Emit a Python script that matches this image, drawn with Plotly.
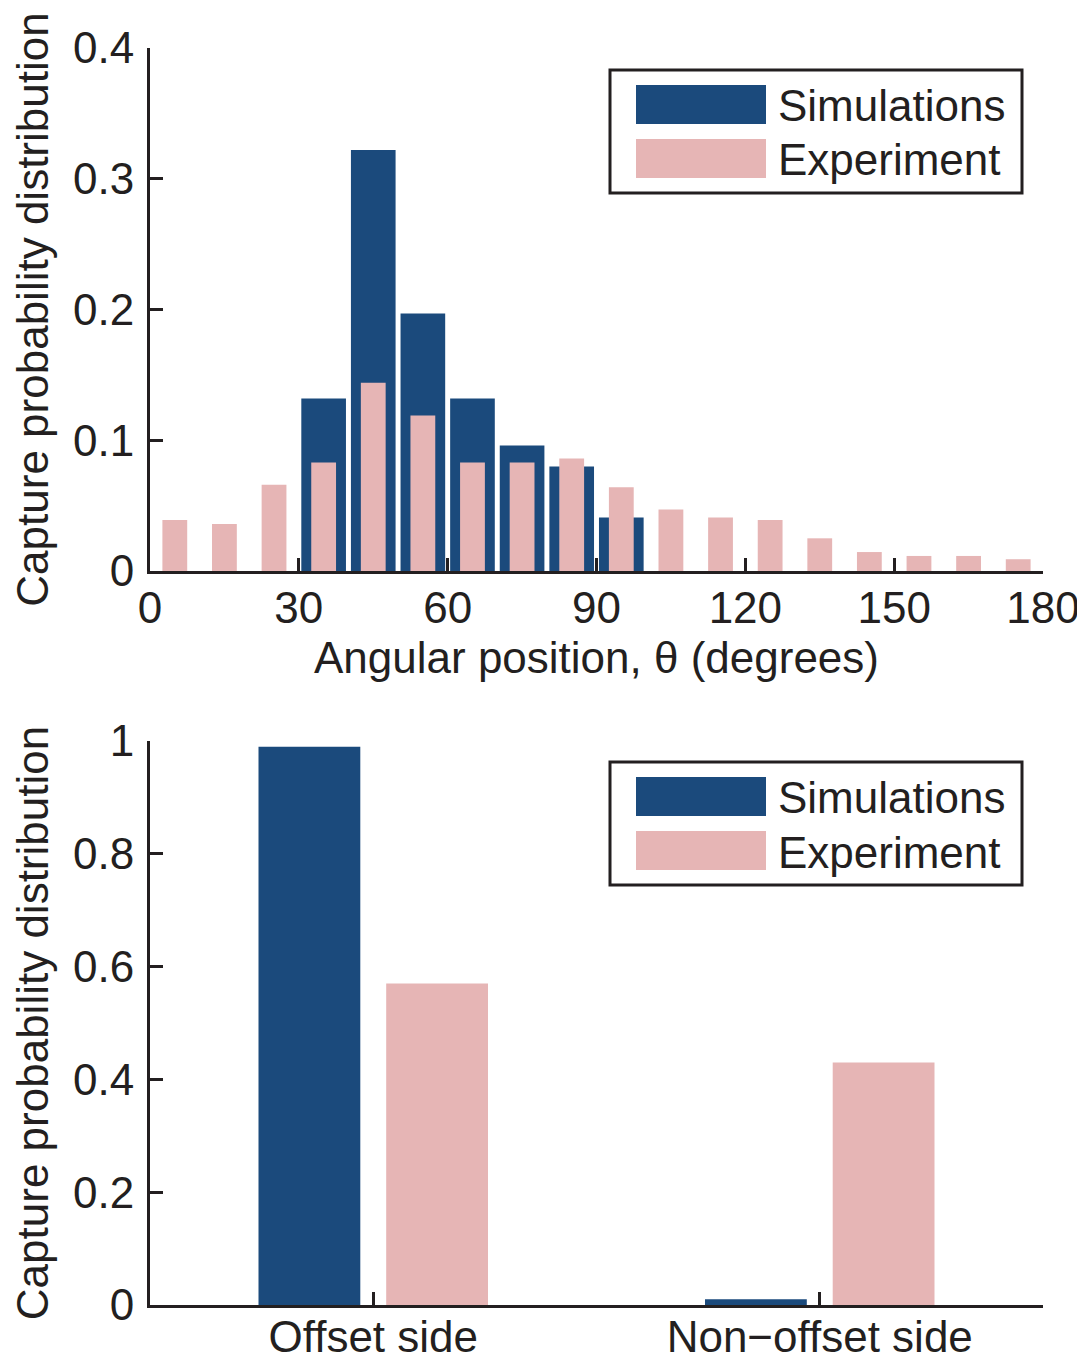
import plotly.graph_objects as go

# ---------------- data ----------------
sim_angle = [35, 45, 55, 65, 75, 85, 95]
sim_prob = [0.132, 0.322, 0.197, 0.132, 0.096, 0.080, 0.041]

exp_angle = [5, 15, 25, 35, 45, 55, 65, 75, 85, 95, 105, 115, 125, 135, 145, 155, 165, 175]
exp_prob = [0.039, 0.036, 0.066, 0.083, 0.144, 0.119, 0.083, 0.083, 0.086, 0.064,
            0.047, 0.041, 0.039, 0.025, 0.0145, 0.0115, 0.0115, 0.009]

side_cats = ["Offset side", "Non\u2212offset side"]
side_sim = [0.99, 0.01]
side_exp = [0.57, 0.43]

x_ticks = [0, 30, 60, 90, 120, 150, 180]
y1_ticks = [0, 0.1, 0.2, 0.3, 0.4]
y1_labels = ["0", "0.1", "0.2", "0.3", "0.4"]
y2_ticks = [0, 0.2, 0.4, 0.6, 0.8, 1]
y2_labels = ["0", "0.2", "0.4", "0.6", "0.8", "1"]

# ---------------- style ----------------
BLUE = "#1b4a7c"
PINK = "#e6b5b5"
INK = "#231f20"
FONT = "Arial, Liberation Sans, sans-serif"
FS = 44

PAGE = 8  # default body margin of the html page
W, H = 1085 - PAGE, 1363 - PAGE
# target plot box in page pixels: x 150..1043, y 48..1305
L = 150 - PAGE
T = 48 - PAGE
R = W - (1043 - PAGE)
B = H - (1305 - PAGE)
PW = W - L - R
PH = H - T - B


def px(x):
    return (x - PAGE - L) / PW


def py(y):
    return (H - B - (y - PAGE)) / PH


fig = go.Figure()

fig.add_trace(go.Bar(x=sim_angle, y=sim_prob, width=9, marker=dict(color=BLUE, line=dict(width=0)),
                     name="Simulations", xaxis="x", yaxis="y", showlegend=False))
fig.add_trace(go.Bar(x=exp_angle, y=exp_prob, width=5, marker=dict(color=PINK, line=dict(width=0)),
                     name="Experiment", xaxis="x", yaxis="y", showlegend=False))

fig.add_trace(go.Bar(x=side_cats, y=side_sim, width=0.228, offset=-0.257,
                     marker=dict(color=BLUE, line=dict(width=0)),
                     name="Simulations", xaxis="x2", yaxis="y2", showlegend=False))
fig.add_trace(go.Bar(x=side_cats, y=side_exp, width=0.228, offset=0.029,
                     marker=dict(color=PINK, line=dict(width=0)),
                     name="Experiment", xaxis="x2", yaxis="y2", showlegend=False))

axis_common = dict(showline=True, linecolor=INK, linewidth=3, ticks="inside", ticklen=13,
                   tickwidth=3, tickcolor=INK, showgrid=False, zeroline=False,
                   automargin=False,
                   tickfont=dict(family=FONT, size=FS, color=INK))

top_bottom = py(571)
bot_top = py(741)

fig.update_layout(
    width=W, height=H,
    margin=dict(l=L, r=R, t=T, b=B, autoexpand=False),
    paper_bgcolor="white", plot_bgcolor="white",
    barmode="overlay",
    font=dict(family=FONT, size=FS, color=INK),
    xaxis=dict(domain=[0, 1], range=[0, 180], tickvals=x_ticks, anchor="y",
               ticklabelstandoff=-4,
               title=dict(text="Angular position, \u03b8 (degrees)", font=dict(size=FS), standoff=12),
               **axis_common),
    yaxis=dict(domain=[top_bottom, 1], range=[0, 0.4], tickvals=y1_ticks, ticktext=y1_labels,
               anchor="x", ticklabelstandoff=4,
               title=dict(text="Capture probability distribution", font=dict(size=FS), standoff=20),
               **axis_common),
    xaxis2=dict(domain=[0, 1], range=[-0.5, 1.5], type="category", anchor="y2",
                ticklabelstandoff=-9, **axis_common),
    yaxis2=dict(domain=[0, bot_top], range=[0, 1], tickvals=y2_ticks, ticktext=y2_labels,
                anchor="x2", ticklabelstandoff=4,
                title=dict(text="Capture probability distribution", font=dict(size=FS), standoff=20),
                **axis_common),
)

# ---------------- custom legends ----------------
shapes = []
annotations = []
for off in (0, 692):
    shapes.append(dict(type="rect", xref="paper", yref="paper",
                       x0=px(610), x1=px(1022), y0=py(70 + off), y1=py(193 + off),
                       line=dict(color=INK, width=3), fillcolor="white", layer="above"))
    shapes.append(dict(type="rect", xref="paper", yref="paper",
                       x0=px(636), x1=px(766), y0=py(85 + off), y1=py(124 + off),
                       line=dict(width=0), fillcolor=BLUE, layer="above"))
    shapes.append(dict(type="rect", xref="paper", yref="paper",
                       x0=px(636), x1=px(766), y0=py(139 + off), y1=py(178 + off),
                       line=dict(width=0), fillcolor=PINK, layer="above"))
    annotations.append(dict(xref="paper", yref="paper", x=px(776), y=py(105 + off),
                            text="Simulations", showarrow=False, xanchor="left", yanchor="middle",
                            font=dict(family=FONT, size=FS, color=INK)))
    annotations.append(dict(xref="paper", yref="paper", x=px(776), y=py(160 + off),
                            text="Experiment", showarrow=False, xanchor="left", yanchor="middle",
                            font=dict(family=FONT, size=FS, color=INK)))

fig.update_layout(shapes=shapes, annotations=annotations)

fig.write_html("out.html")
